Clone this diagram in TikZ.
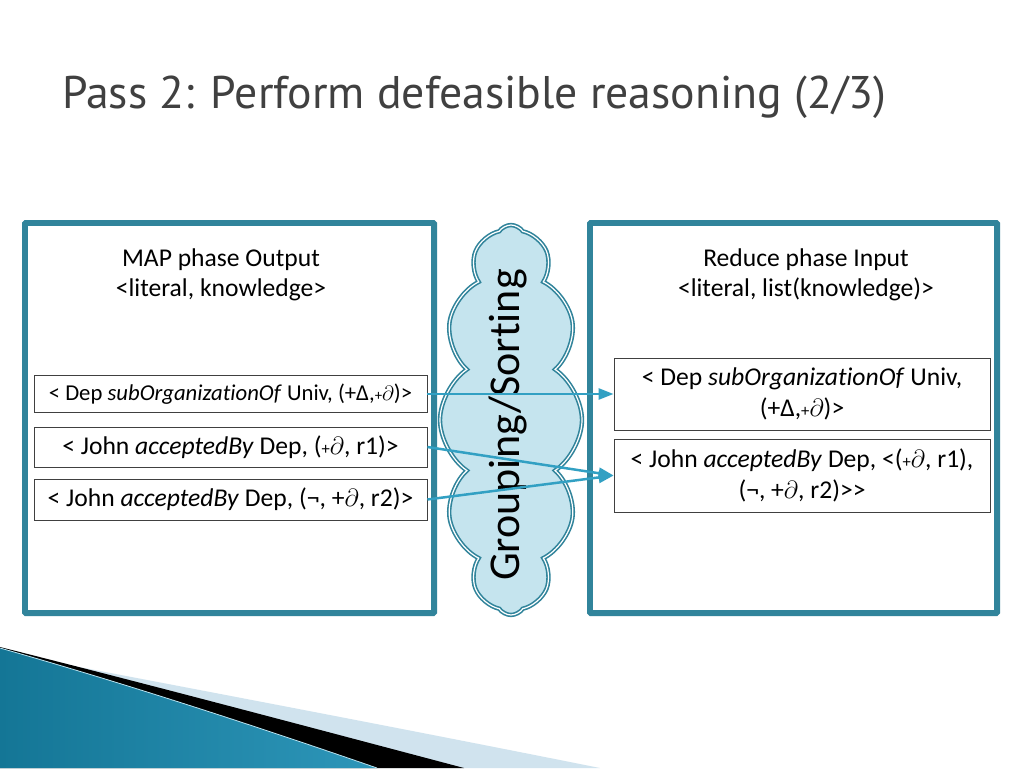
\documentclass[tikz,border=0pt]{standalone}
\usepackage{fontspec}
\setmainfont[Ligatures=NoCommon]{Carlito}
\newfontfamily\titlefont{PT Sans}
\usetikzlibrary{arrows.meta,shapes.symbols}
\definecolor{frameteal}{RGB}{49,132,155}
\definecolor{arrowteal}{RGB}{50,160,195}
\definecolor{cloudfill}{RGB}{197,228,238}
\definecolor{swooshlight}{RGB}{208,227,238}
\definecolor{tealdark}{RGB}{20,118,150}
\definecolor{teallight}{RGB}{78,180,212}
\definecolor{tealmid}{RGB}{45,150,185}
\definecolor{titlegray}{RGB}{64,64,64}
\newcommand{\smplus}{\scalebox{0.65}{+}}
\newcommand{\pd}{$\partial$}
\newcommand{\gtgt}{>\kern0pt>}
\begin{document}
\begin{tikzpicture}[x=1pt,y=-1pt,
  panel/.style={draw=frameteal, line width=4pt, rounded corners=1.5pt, inner sep=0pt},
  innerline/.style={draw=frameteal, line width=1.5pt},
  itembox/.style={draw=black!75, line width=0.8pt, inner sep=0pt, minimum width=393pt, align=center},
  bigtext/.style={font=\fontsize{25.6}{30.5}\selectfont, align=center},
  flow/.style={draw=arrowteal, line width=2.5pt, -{Triangle[length=15pt,width=11pt]}},
  cloudshape/.style={cloud, cloud puffs=12, cloud puff arc=112, cloud ignores aspect,
     draw=frameteal, double=white, double distance=1.2pt, line width=1.6pt, fill=cloudfill, inner sep=0pt}
]
\useasboundingbox (0,0) rectangle (1024,768);
\fill[white] (0,0) rectangle (1024,768);

% title
\node[anchor=base west, inner sep=0pt, text=titlegray] (title) at (62,108)
  {\resizebox{824pt}{!}{\titlefont\fontsize{40}{40}\selectfont Pass 2: Perform defeasible reasoning (2/3)}};

% panels
\node[panel, minimum width=411pt, minimum height=392pt] (lp) at (229.5,418) {};
\draw[innerline] ([shift={(5,5)}]lp.north west) rectangle ([shift={(-5,-5)}]lp.south east);
\node[panel, minimum width=409pt, minimum height=392pt] (rp) at (793.5,418) {};
\draw[innerline] ([shift={(5,5)}]rp.north west) rectangle ([shift={(-5,-5)}]rp.south east);

% cloud
\node[cloudshape, minimum width=142pt, minimum height=390pt] (cl) at (511,420) {};
\node[rotate=90, inner sep=0pt, font=\fontsize{44}{44}\selectfont] (gs) at (508,425) {Grouping/Sorting};

% headers
\node[bigtext] (lh) at (221,275) {MAP phase Output\\<literal, knowledge>};
\node[bigtext] (rh) at (806,275) {Reduce phase Input\\<literal, list(knowledge)>};

% left items
\node[itembox, minimum height=37pt, font=\fontsize{22.7}{27}\selectfont] (b1) at (230.5,394)
  {< Dep \textit{subOrganizationOf} Univ, (+Δ,\smplus\pd)>};
\node[itembox, minimum height=40pt, font=\fontsize{25.6}{30.5}\selectfont] (b2) at (230.5,447)
  {< John \textit{acceptedBy} Dep, (\smplus\pd, r1)>};
\node[itembox, minimum height=41pt, font=\fontsize{25.6}{30.5}\selectfont] (b3) at (230.5,499.5)
  {< John \textit{acceptedBy} Dep, (¬, +\pd, r2)>};

% right items
\node[itembox, minimum width=376pt, minimum height=72pt, font=\fontsize{25.6}{30.5}\selectfont] (ra) at (802,394)
  {< Dep \textit{subOrganizationOf} Univ,\\(+Δ,\smplus\pd)>};
\node[itembox, minimum width=376pt, minimum height=73pt, font=\fontsize{25.6}{30.5}\selectfont] (rb) at (802,475.5)
  {< John \textit{acceptedBy} Dep, <(\smplus\pd, r1),\\(¬, +\pd, r2)\gtgt};

% connectors
\draw[flow] (b1.east) -- (ra.west);
\draw[flow] (b2.east) -- (rb.west);
\draw[flow] (b3.east) -- (rb.west);

% bottom swoosh
\fill[swooshlight] (0,652) .. controls (200,690) and (400,728) .. (600,768) -- (0,768) -- cycle;
\fill[black] (0,647) .. controls (155,686) and (309,727) .. (464,768) -- (0,768) -- cycle;
\shade[left color=tealdark, middle color=teallight, right color=tealmid]
  (0,648) .. controls (120,682) and (250,724) .. (377,768) -- (0,768) -- cycle;
\draw[white!60!teallight, line width=0.8pt] (0,648) .. controls (120,682) and (250,724) .. (377,768);
\end{tikzpicture}
\end{document}
